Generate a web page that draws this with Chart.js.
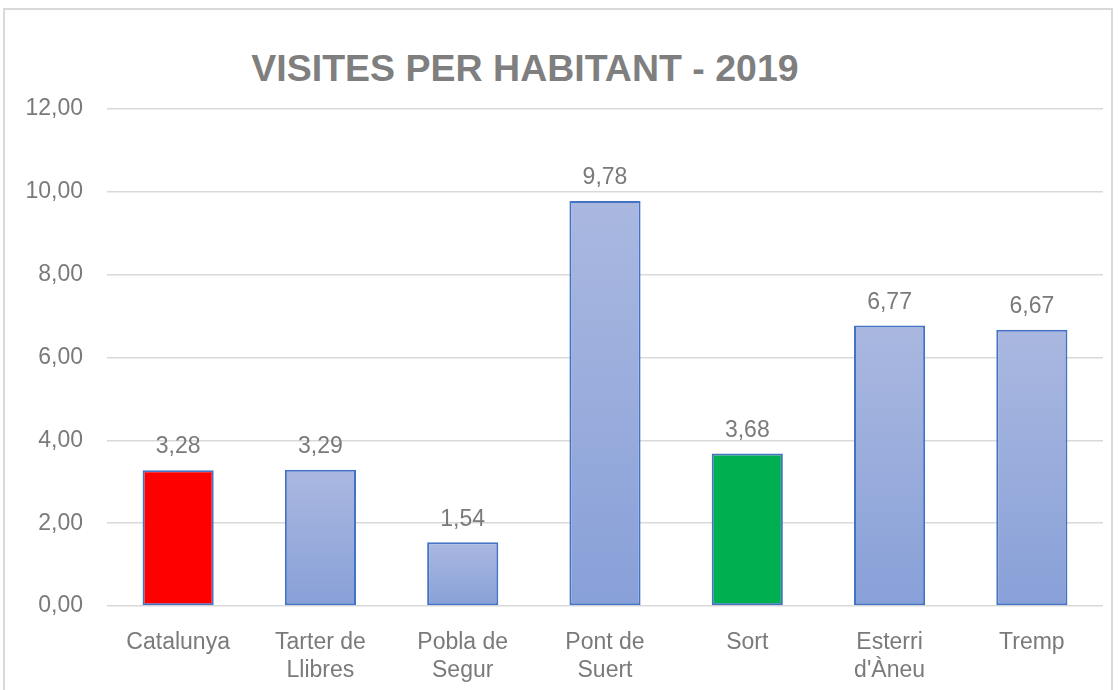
<!DOCTYPE html>
<html lang="ca">
<head>
<meta charset="UTF-8">
<title>Visites per habitant - 2019</title>
<script src="https://cdn.jsdelivr.net/npm/chart.js"></script>
<style>
    html, body { margin: 0; padding: 0; background: #fff; }
    .frame {
        position: absolute; left: 3px; top: 8px; width: 1110px; height: 700px;
        border: 2px solid #d9d9d9; box-sizing: border-box;
    }
    .title {
        position: absolute; left: 0; width: 1050px; top: 47px; text-align: center;
        font: bold 37.5px "Liberation Sans", Arial, sans-serif; color: #7f7f7f;
    }
    .wrap { position: absolute; left: 0; top: 0; width: 1118px; height: 690px; }
</style>
</head>
<body>
<div class="frame"></div>
<div class="title">VISITES PER HABITANT - 2019</div>
<div class="wrap"><canvas id="chart" width="1118" height="690"></canvas></div>
<script>
    var categories = [["Catalunya"], ["Tarter de", "Llibres"], ["Pobla de", "Segur"], ["Pont de", "Suert"], ["Sort"], ["Esterri", "d'Àneu"], ["Tremp"]];
    var values = [3.28, 3.29, 1.54, 9.78, 3.68, 6.77, 6.67];
    var solidColors = { 0: '#ff0000', 4: '#00b050' };
    var yTicks = [0, 2, 4, 6, 8, 10, 12];

    var textGray = '#7a7a7a';
    var fontFamily = '"Liberation Sans", Arial, sans-serif';

    function fmt(v) { return v.toFixed(2).replace('.', ','); }

    var labelPlugin = {
        id: 'barLabels',
        afterDatasetsDraw: function (chart) {
            var ctx = chart.ctx;
            var meta = chart.getDatasetMeta(0);
            ctx.save();
            ctx.font = '23px ' + fontFamily;
            ctx.fillStyle = textGray;
            ctx.textAlign = 'center';
            ctx.textBaseline = 'middle';
            meta.data.forEach(function (bar, i) {
                ctx.fillText(fmt(values[i]), bar.x, bar.y - 23);
            });
            ctx.restore();
        }
    };

    new Chart(document.getElementById('chart'), {
        type: 'bar',
        data: {
            labels: categories,
            datasets: [{
                data: values,
                backgroundColor: function (c) {
                    if (solidColors[c.dataIndex]) return solidColors[c.dataIndex];
                    var area = c.chart.chartArea;
                    if (!area) return '#99ace0';
                    var ys = c.chart.scales.y;
                    var top = ys.getPixelForValue(values[c.dataIndex]);
                    var g = c.chart.ctx.createLinearGradient(0, top, 0, ys.getPixelForValue(0));
                    g.addColorStop(0, '#aab8e0');
                    g.addColorStop(1, '#88a0d8');
                    return g;
                },
                borderColor: '#4472c4',
                borderWidth: 2,
                borderSkipped: false,
                categoryPercentage: 1,
                barPercentage: 0.5
            }]
        },
        options: {
            responsive: false,
            animation: false,
            devicePixelRatio: 1,
            layout: { padding: { top: 109, left: 20, right: 15, bottom: 0 } },
            plugins: { legend: { display: false }, tooltip: { enabled: false } },
            scales: {
                x: {
                    grid: { display: false },
                    border: { display: false },
                    ticks: {
                        color: textGray,
                        font: { family: fontFamily, size: 23 },
                        padding: 15,
                        maxRotation: 0,
                        autoSkip: false
                    },
                    afterFit: function (s) { s.height = 84; }
                },
                y: {
                    min: 0, max: 12,
                    afterBuildTicks: function (s) { s.ticks = yTicks.map(function (v) { return { value: v }; }); },
                    grid: { color: '#d9d9d9', lineWidth: 1.5, drawTicks: false },
                    border: { display: false },
                    ticks: {
                        color: textGray,
                        font: { family: fontFamily, size: 23 },
                        padding: 24,
                        callback: function (v) { return fmt(v); }
                    },
                    afterFit: function (s) { s.width = 87; }
                }
            }
        },
        plugins: [labelPlugin]
    });
</script>
</body>
</html>
